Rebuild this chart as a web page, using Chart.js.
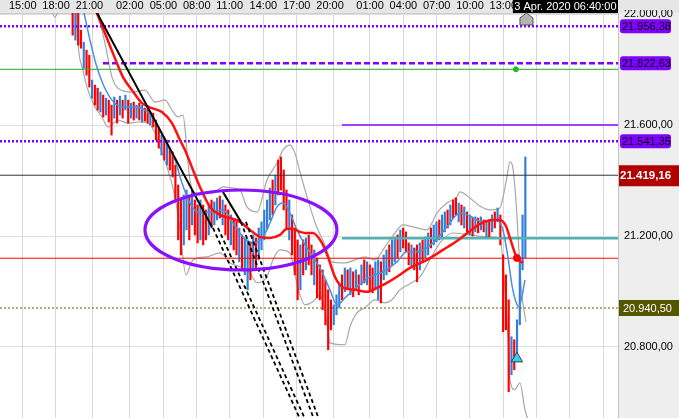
<!DOCTYPE html>
<html><head><meta charset="utf-8">
<script src="https://cdn.jsdelivr.net/npm/chart.js@4.4.1/dist/chart.umd.min.js"></script>
<style>html,body{margin:0;padding:0;background:#fff;overflow:hidden}</style>
</head><body><canvas id="c" width="679" height="418"></canvas>
<script>
// ---------- DATA ----------
// x axis: chart hours (session gaps compressed), tick positions and labels
const tickPos = [0, 3, 6, 9.63, 12.66, 15.66, 18.66, 21.66, 24.66, 27.66, 31.26, 34.26, 37.26, 40.26, 43.26, 46.26, 49.26, 52.26];
const tickLabels = ["15:00","18:00","21:00","02:00","05:00","08:00","11:00","14:00","17:00","20:00","01:00","04:00","07:00","10:00","13:00","16:00","19:00","22:00"];
const yTicks = [20800, 21200, 21600, 22000];

// OHLC bars (15-minute steps starting at 21:00)
const barStart = 6.0, barStep = 0.25;
const barHigh = [22032,22014,22003,21942,21899,21870,21852,21762,21744,21733,
 21719,21708,21697,21690,21672,21701,21690,21704,21690,21708,
 21690,21679,21683,21672,21679,21672,21661,21668,21647,21643,
 21618,21589,21564,21557,21546,21517,21503,21456,21384,21330,
 21348,21366,21348,21366,21330,21312,21330,21312,21294,21312,
 21330,21323,21337,21344,21330,21312,21294,21276,21258,21251,
 21229,21204,21193,21186,21179,21204,21193,21229,21251,21294,
 21330,21373,21402,21420,21474,21485,21438,21366,21330,21276,
 21229,21186,21168,21186,21193,21204,21168,21150,21121,21096,
 21078,21042,21006,20970,20952,20988,21024,21060,21085,21078,
 21085,21071,21078,21060,21096,21114,21107,21096,21085,21107,
 21114,21107,21132,21150,21168,21186,21197,21204,21222,21229,
 21215,21175,21168,21157,21168,21175,21186,21197,21211,21229,
 21240,21251,21258,21276,21287,21294,21312,21330,21337,21319,
 21312,21305,21287,21276,21265,21269,21265,21269,21258,21251,
 21258,21276,21287,21301,21276,21132,21060,20970,20837,20826,
 20898,21121,21276,21485];
const barLow = [21924,21906,21888,21877,21805,21780,21737,21697,21672,21654,
 21647,21629,21636,21611,21564,21625,21607,21636,21625,21654,
 21607,21625,21618,21625,21618,21611,21614,21607,21600,21593,
 21546,21517,21492,21474,21456,21438,21413,21330,21186,21132,
 21168,21222,21186,21240,21204,21175,21186,21168,21186,21204,
 21229,21240,21258,21265,21240,21204,21186,21168,21150,21132,
 21107,21078,21060,21006,21042,21085,21078,21114,21150,21186,
 21222,21258,21276,21312,21348,21366,21294,21222,21186,21132,
 21060,20970,21006,21060,21078,21096,21060,21024,20977,20970,
 20934,20880,20790,20862,20880,20916,20941,20970,20999,21006,
 20988,20981,21006,20988,21024,21031,21024,21006,20995,21006,
 20970,20959,21042,21060,21071,21096,21107,21121,21143,21157,
 21143,21096,21085,21078,21035,21078,21107,21121,21132,21157,
 21168,21179,21186,21197,21215,21229,21240,21265,21276,21251,
 21240,21229,21215,21204,21200,21215,21211,21222,21215,21197,
 21193,21215,21229,21251,21168,20855,20862,20639,20700,20718,
 20747,20880,21078,21121];
const barDir = ("RBRRBRRBRR"+"BRBRRBRBRB"+"RBRBRBRRBR"+"RRBRBRRRRR"+"BBRBRRBRRB"+
 "RBBRBRRBRR"+"BRBBRBRBBB"+"BBRBRRRRBR"+"RRBRBRRBRR"+"RRRRBBBRBR"+
 "BRBRBRBRRB"+"BRBBRBBRBR"+"RRBRRBRBBR"+"BBRBBRBRRB"+"RBRBRBRBRB"+
 "RBRBRRRRBR"+"BBBB").split("");

// slow moving average (red)
const redMaT = [7.74,8.19,9.09,9.99,10.53,11.34,12.24,13.14,14.04,14.94,15.66,16.11,16.83,17.46,18.36,19.26,20.16,21.06,21.96,22.86,23.76,24.66,25.29,25.83,26.46,26.91,27.63,28.44,28.98,29.61,30.24,31.41,32.49,33.39,34.29,35.19,36.36,37.89,39.33,40.59,41.76,42.66,43.83,44.46,45.0,45.36,45.99,46.53];
const redMaV = [22050,22003,21913,21823,21773,21726,21679,21661,21647,21607,21546,21510,21438,21377,21305,21276,21265,21251,21222,21197,21193,21204,21226,21226,21215,21211,21211,21175,21125,21053,21017,21006,20999,21013,21031,21053,21085,21114,21150,21182,21218,21244,21258,21258,21236,21193,21121,21103];
// fast moving average (blue)
const blueMaT = [6.66,7.02,7.56,8.10,8.73,9.54,10.44,11.61,12.51,13.41,14.31,15.21,15.84,16.56,17.46,18.63,19.53,20.43,21.33,22.23,23.13,23.76,24.39,24.93,25.56,26.19,26.91,27.81,28.44,29.16,29.79,30.51,31.59,32.76,33.93,35.19,36.09,37.08,38.43,39.69,40.86,41.76,42.93,44.19,44.73,45.18,45.54,45.90,46.17,46.44,46.71];
const blueMaV = [22050,22003,21906,21820,21748,21690,21665,21665,21654,21618,21546,21474,21391,21319,21283,21287,21294,21247,21197,21175,21197,21247,21305,21319,21283,21222,21168,21114,21071,21006,20952,20977,21017,21053,21071,21107,21143,21143,21175,21233,21283,21272,21251,21258,21222,21125,21024,20963,20945,20981,21042];
// Bollinger bands (grey)
const bandUpT = [8.01,8.28,8.91,9.54,10.08,11.34,12.51,13.41,14.31,14.94,15.48,15.93,16.29,16.56,17.19,18.63,19.53,20.43,21.06,21.69,22.59,23.49,24.39,24.93,25.56,26.01,26.46,27.18,27.90,28.71,29.34,30.51,31.41,32.31,33.21,34.11,35.01,35.73,36.63,37.89,38.79,39.69,40.59,40.86,41.76,42.66,43.56,44.46,44.82,45.09,45.36,45.63,45.90,46.17,46.44,46.80];
const bandUpV = [22050,22003,21895,21773,21733,21719,21726,21683,21690,21654,21629,21636,21510,21402,21355,21355,21377,21373,21366,21305,21287,21402,21463,21510,21528,21499,21431,21330,21240,21168,21107,21103,21114,21125,21114,21161,21211,21240,21233,21222,21283,21319,21341,21359,21337,21308,21294,21301,21355,21413,21467,21445,21330,21150,20988,20891];
const bandLoT = [3.96,4.41,4.86,5.5,6.30,6.48,6.93,7.29,8.01,8.64,9.18,10.08,10.98,11.88,12.78,13.41,14.04,14.58,15.21,15.66,16.20,16.83,18.09,19.26,20.16,21.06,21.96,22.59,23.49,24.03,24.66,25.56,26.01,26.46,26.91,27.63,28.26,28.71,29.16,30.51,30.96,31.59,32.31,33.21,34.11,34.74,35.46,36.36,37.26,38.16,39.06,40.23,41.76,43.29,44.46,44.91,45.18,45.36,45.81,46.26,46.71,46.98];
const bandLoV = [22032,21989,22032,null,22050,21895,21798,21737,21665,21629,21593,21618,21607,21611,21607,21571,21499,21438,21341,21222,21060,21114,21125,21139,21103,21089,21067,21031,21053,21114,21150,21139,21060,20988,20952,20963,20988,20934,20815,20808,20873,20923,20941,20970,20959,20970,21006,21028,21053,21114,21175,21211,21204,21197,21193,21006,20837,20682,20646,20671,20574,20538];

// horizontal levels
const levelDotTop = 21956.38, levelDash = 21822.63, levelGreen = 21801, levelSolidPurple = 21600;
const levelDotMid = 21541.35, levelLast = 21419.16, levelTeal = 21192, levelRed = 21120, levelOlive = 20940.50;
const levelDashStart = 8.73, levelRightStart = 30.24;

// trend lines [t1, v1, t2, v2]
const trendSolid = [[7.92, 22025, 18.54, 21233], [19.53, 21359, 21.15, 21251]];
const trendDashed = [[18.63, 21229, 26.7, 20520], [19.08, 21229, 27.15, 20520], [21.15, 21251, 27.9, 20520], [21.6, 21251, 28.35, 20520]];
// ellipse bounding box [t0, t1, vTop, vBottom]
const ellipseBox = [12.51, 29.79, 21366, 21078];
// markers
const greenDot = {x: 45.9, y: 21801};
const redDot = {x: 45.99, y: 21121};
const cyanMark = {x: 45.99, y: 20758};
const cursorTime = 46.85;
const cursorLabel = "3 Apr. 2020 06:40:00";

const X_MIN = -0.54, X_MAX = 55.09, Y_MIN = 20544, Y_MAX = 22004;
const FONT = "'Liberation Sans', Arial, sans-serif";

// ---------- helpers ----------
function fmt(v){ const s = v.toFixed(2); let [i,d] = s.split('.'); i = i.replace(/\B(?=(\d{3})+(?!\d))/g,'.'); return i + ',' + d; }
function pts(T, V){ return T.map((t,i)=>({x:t, y:V[i]})); }
function hline(v, start, color, width, dash, order){
  return {type:'line', data:[{x:start==null?X_MIN:start, y:v},{x:X_MAX, y:v}], borderColor:color, borderWidth:width,
    borderDash:dash||[], pointRadius:0, order:order==null?2:order, tension:0};
}
const barColors = barDir.map(d => d === 'R' ? '#ff0000' : '#2f7ed8');
const barData = barHigh.map((h,i)=>({x: barStart + barStep*i, y:[barLow[i], h]}));

const datasets = [
  {type:'line', data:[cyanMark], showLine:false, pointStyle:'triangle', pointRadius:6.5, backgroundColor:'#35d0f0', borderColor:'#2a4a5a', borderWidth:1, order:-3},
  {type:'line', data:[redDot], showLine:false, pointRadius:3.5, backgroundColor:'#ff0000', borderColor:'#ff0000', order:-3},
  {type:'line', data:[greenDot], showLine:false, pointRadius:2.5, backgroundColor:'#22bb22', borderColor:'#22bb22', order:-3},
  ...trendSolid.map(s=>({type:'line', data:[{x:s[0],y:s[1]},{x:s[2],y:s[3]}], borderColor:'#000', borderWidth:2, pointRadius:0, order:-2})),
  ...trendDashed.map(s=>({type:'line', data:[{x:s[0],y:s[1]},{x:s[2],y:s[3]}], borderColor:'#000', borderWidth:1.8, borderDash:[4,3], pointRadius:0, order:-2})),
  {type:'line', data:pts(redMaT, redMaV), borderColor:'#ff1010', borderWidth:2.5, pointRadius:0, cubicInterpolationMode:'monotone', order:-1},
  {type:'line', data:pts(blueMaT, blueMaV), borderColor:'#4a8fe0', borderWidth:1.5, pointRadius:0, cubicInterpolationMode:'monotone', order:0},
  hline(levelDotTop, null, '#8000ff', 2.5, [2,2], 1),
  hline(levelDash, levelDashStart, '#8000ff', 2.5, [6,3], 1),
  hline(levelGreen, null, '#22aa22', 1, null, 1),
  hline(levelSolidPurple, levelRightStart, '#a040ff', 2, null, 1),
  hline(levelDotMid, null, '#8000ff', 2.5, [2,2], 1),
  hline(levelLast, null, '#333333', 1, null, 1),
  hline(levelTeal, levelRightStart, '#4fb3b3', 2.5, null, 1),
  hline(levelRed, null, '#ff0000', 1, null, 1),
  hline(levelOlive, null, '#556600', 1, [2,2], 1),
  {type:'bar', data:barData, backgroundColor:barColors, borderWidth:0, barThickness:1.5, order:3},
  {type:'line', data:pts(bandUpT, bandUpV), borderColor:'#a8a8a8', borderWidth:1.2, pointRadius:0, cubicInterpolationMode:'monotone', order:4},
  {type:'line', data:pts(bandLoT, bandLoV), borderColor:'#a8a8a8', borderWidth:1.2, pointRadius:0, cubicInterpolationMode:'monotone', spanGaps:false, order:4}
];

const decor = {
  id:'decor',
  beforeDraw(chart){
    const {ctx, chartArea:a} = chart;
    ctx.save();
    ctx.fillStyle = '#ffffff'; ctx.fillRect(0,0,chart.width,chart.height);
    ctx.fillStyle = '#e6e6e6'; ctx.fillRect(0,0,chart.width,a.top);
    ctx.fillStyle = '#eeeeee'; ctx.fillRect(a.right,a.top,chart.width-a.right,chart.height-a.top);
    ctx.restore();
  },
  afterDatasetsDraw(chart){
    const {ctx, chartArea:a} = chart; const xs = chart.scales.x, ys = chart.scales.y;
    const x0 = xs.getPixelForValue(ellipseBox[0]), x1 = xs.getPixelForValue(ellipseBox[1]);
    const y0 = ys.getPixelForValue(ellipseBox[2]), y1 = ys.getPixelForValue(ellipseBox[3]);
    ctx.save();
    ctx.beginPath(); ctx.rect(a.left,a.top,a.right-a.left,a.bottom-a.top); ctx.clip();
    ctx.beginPath();
    ctx.ellipse((x0+x1)/2,(y0+y1)/2,(x1-x0)/2,Math.abs(y1-y0)/2,0,0,Math.PI*2);
    ctx.strokeStyle = '#8a10ff'; ctx.lineWidth = 3.2; ctx.stroke();
    ctx.restore();
  },
  afterDraw(chart){
    const {ctx, chartArea:a} = chart; const xs = chart.scales.x, ys = chart.scales.y;
    ctx.save();
    ctx.fillStyle = '#e6e6e6'; ctx.fillRect(a.right+1, 0, chart.width-a.right, 10);
    ctx.textBaseline = 'middle';
    function box(v, x, w, hUp, hDn, fill, txtColor, font, tx, r){
      const y = ys.getPixelForValue(v);
      ctx.fillStyle = fill;
      ctx.beginPath();
      if (r) ctx.roundRect(x, y-hUp, w, hUp+hDn, r); else ctx.rect(x, y-hUp, w, hUp+hDn);
      ctx.fill();
      ctx.fillStyle = txtColor; ctx.font = font; ctx.textAlign = 'left';
      ctx.fillText(fmt(v), tx, y+0.5);
    }
    const f11 = '11px ' + FONT;
    box(levelDotTop, a.right+2, 51, 7, 7, '#7f00ff', '#000', f11, a.right+4, 3);
    box(levelDash, a.right+2, 51, 7, 7, '#7f00ff', '#000', f11, a.right+4, 3);
    box(levelDotMid, a.right+2, 51, 7, 7, '#7f00ff', '#000', f11, a.right+4, 3);
    box(levelLast, a.right+1, 60, 10, 11, '#b00000', '#fff', 'bold 11.5px ' + FONT, a.right+2, 0);
    box(levelOlive, a.right+1, 60, 8, 8, '#555500', '#fff', f11, a.right+5, 0);
    ctx.font = f11;
    const tw = ctx.measureText(cursorLabel).width;
    const bx = a.right - tw - 3;
    ctx.fillStyle = '#000'; ctx.fillRect(bx, 0, a.right - bx, a.top);
    ctx.fillStyle = '#fff'; ctx.textAlign = 'left'; ctx.fillText(cursorLabel, bx + 1.5, a.top/2 + 0.5);
    const px = xs.getPixelForValue(cursorTime), t = a.top;
    ctx.beginPath();
    ctx.moveTo(px-6.5, t+12); ctx.lineTo(px-6.5, t+5); ctx.lineTo(px, t); ctx.lineTo(px+6.5, t+5); ctx.lineTo(px+6.5, t+12); ctx.closePath();
    ctx.fillStyle = '#b4b4b4'; ctx.fill(); ctx.strokeStyle = '#555'; ctx.lineWidth = 1; ctx.stroke();
    ctx.restore();
  }
};

new Chart(document.getElementById('c'), {
  type:'bar',
  data:{datasets},
  options:{
    responsive:false, animation:false, events:[],
    layout:{padding:0, autoPadding:false},
    plugins:{legend:{display:false}, tooltip:{enabled:false}},
    scales:{
      x:{type:'linear', position:'top', min:X_MIN, max:X_MAX, offset:false,
        afterBuildTicks:s=>{ s.ticks = tickPos.map(v=>({value:v})); },
        afterFit:s=>{ s.paddingLeft = 0; s.paddingRight = 0; s.height = 13; },
        ticks:{callback:v=>tickLabels[tickPos.indexOf(v)], align:'start', labelOffset:3, padding:0, autoSkip:false, maxRotation:0,
          font:{size:11, family:FONT}, color:'#000'},
        grid:{color:'#d9d9d9', drawTicks:false},
        border:{color:'#cccccc'}
      },
      y:{type:'linear', position:'right', min:Y_MIN, max:Y_MAX,
        afterBuildTicks:s=>{ s.ticks = yTicks.map(v=>({value:v})); },
        afterFit:s=>{ s.width = 61; s.paddingTop = 0; s.paddingBottom = 0; },
        ticks:{callback:v=>fmt(v), padding:6, crossAlign:'near', font:{size:11, family:FONT}, color:'#000'},
        grid:{color:'#dddddd', drawTicks:false},
        border:{color:'#c4c4c4'}
      }
    }
  },
  plugins:[decor]
});
</script>
</body></html>
